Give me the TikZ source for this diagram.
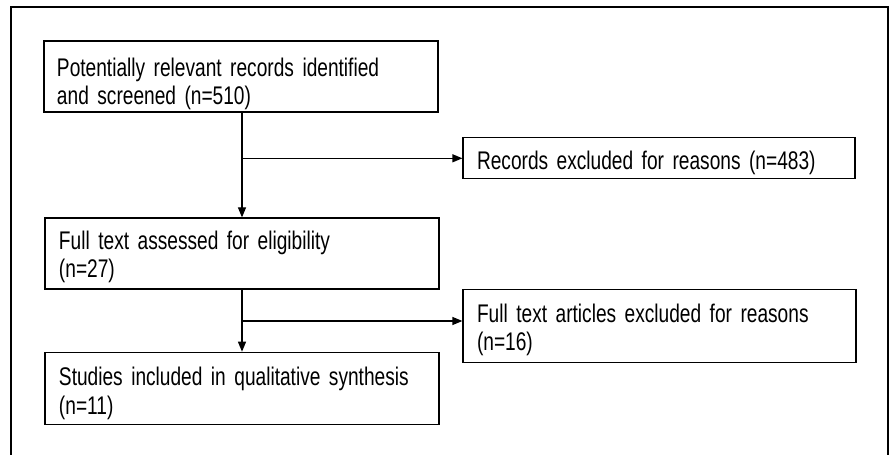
\documentclass[tikz,border=0pt]{standalone}
\usepackage{fontspec}
\setmainfont{Liberation Sans}[FakeStretch=0.75]
\usetikzlibrary{arrows.meta}
\begin{document}
\begin{tikzpicture}[x=1bp,y=-1bp,
  box/.style={draw, line width=1.2bp, rectangle, inner xsep=14bp, inner ysep=0bp,
    minimum width=#1bp, text width=#1bp-28bp, align=left,
    font=\fontsize{25.5bp}{28.3bp}\selectfont},
  arr/.style={line width=1.2bp, -{Triangle[length=10bp,width=8bp]}}]
\useasboundingbox (0,0) rectangle (893,455);
\draw[line width=1.4bp] (11,455) -- (11,7) -- (888,7) -- (888,455);
\node[box=394, minimum height=71bp, inner xsep=13bp, text width=368bp,
  text height=30bp, text depth=29.6bp] (b1) at (241,76.5)
  {Potentially relevant records identified\\and screened (n=510)};
\node[box=392, minimum height=41bp, text height=22bp, text depth=0bp] (b2) at (659,158.3)
  {Records excluded for reasons (n=483)};
\node[box=394, minimum height=71bp, text height=20bp, text depth=28.4bp] (b3) at (242,253.5)
  {Full text assessed for eligibility\\(n=27)};
\node[box=393, minimum height=73bp, text height=25bp, text depth=31.8bp] (b5) at (659.5,325.7)
  {Full text articles excluded for reasons\\(n=16)};
\node[box=394, minimum height=72bp, text height=26bp, text depth=30.6bp] (b4) at (242,388.3)
  {Studies included in qualitative synthesis\\(n=11)};
\coordinate (j1) at (b3.north |- b2.west);
\coordinate (j2) at (243,321);
\draw[arr] (b1.south -| b3.north) -- (b3.north);
\draw[arr] (j1) -- (j1 -| b2.west);
\draw[arr] (b3.south) -- (b4.north);
\draw[arr] (j2) -- (j2 -| b5.west);
\end{tikzpicture}
\end{document}
